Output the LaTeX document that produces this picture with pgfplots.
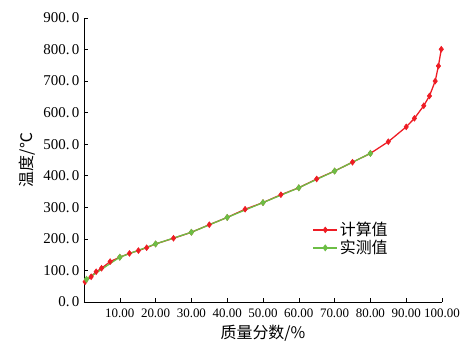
\documentclass[border=0pt]{standalone}
\usepackage{pgfplots}
\pgfplotsset{compat=1.18}
\usepackage{fontspec}
\setmainfont{Liberation Serif}
\newfontfamily\cjk{Noto Sans CJK SC}
\definecolor{redc}{RGB}{238,28,36}
\definecolor{greenc}{RGB}{108,190,69}
\begin{document}
\begin{tikzpicture}
\useasboundingbox (-84bp,-49bp) rectangle (388bp,302bp);
\begin{axis}[
  scale only axis,
  width=358bp, height=284bp,
  at={(0,0)}, anchor=south west,
  xmin=0, xmax=100, ymin=0, ymax=900,
  axis lines=left,
  axis line style={-, line width=0.8pt, black},
  xtick={10,20,...,100},
  xticklabels={10.00,20.00,30.00,40.00,50.00,60.00,70.00,80.00,90.00,100.00},
  ytick={0,100,...,900},
  yticklabels={0.\,0,100.\,0,200.\,0,300.\,0,400.\,0,500.\,0,600.\,0,700.\,0,800.\,0,900.\,0},
  tick align=inside,
  major tick length=4bp,
  tick style={black, line width=0.6pt},
  x tick label style={font=\fontsize{13}{13}\selectfont, yshift=-3bp},
  y tick label style={font=\fontsize{15}{15}\selectfont, xshift=-1bp},
  xlabel={\cjk 质量分数/\%},
  ylabel={\cjk 温度/℃},
  xlabel style={font=\fontsize{16}{16}\selectfont, yshift=-1bp},
  ylabel style={font=\fontsize{16}{16}\selectfont, yshift=1bp},
  legend style={at={(0.63,0.295)}, anchor=north west, draw=none, fill=none,
    font=\fontsize{16}{17}\selectfont\cjk, row sep=-1bp},
  legend cell align=left,
  legend image code/.code={
    \draw[#1, mark repeat=2, mark phase=2] plot coordinates {(0cm,0cm) (0.42cm,0cm) (0.84cm,0cm)};
  },
]
\addplot[redc, line width=1.3pt, mark=diamond*, mark size=2.9pt, mark options={fill=redc, draw=redc, line width=0.6pt}] coordinates {
(0.3,64) (2,80) (3.4,96) (4.9,107) (7.3,128) (10,142) (12.7,154) (15.2,163) (17.5,172) (20,184)
(25,202) (30,221) (35,245) (40,268) (45,294) (50,315) (55,340) (60,362) (65,390) (70,415)
(75,443) (80,471) (85,508) (90,555) (92.3,582) (94.9,622) (96.5,653) (98.1,700) (99,748) (99.8,801)
};
\addlegendentry{计算值}
\addplot[greenc, line width=1.3pt, mark=diamond*, mark size=3.1pt, mark options={fill=greenc, draw=greenc, line width=0.6pt}] coordinates {
(0.7,72) (10,142) (20,184) (30,221) (40,268) (50,315) (60,362) (70,415) (80,471)
};
\addlegendentry{实测值}
\end{axis}
\end{tikzpicture}
\end{document}
